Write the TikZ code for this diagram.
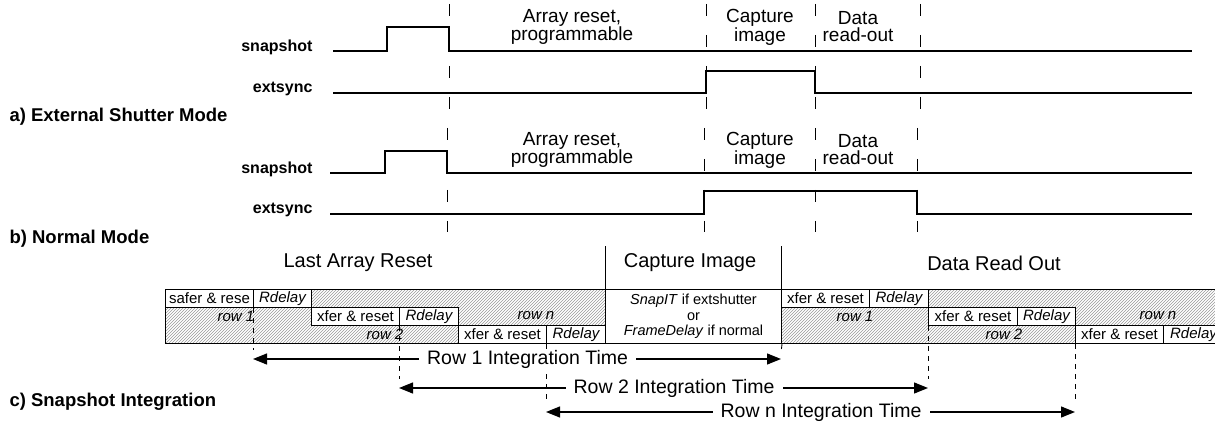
\documentclass[tikz,border=0pt]{standalone}
\usepackage{fontspec}
\setmainfont{Liberation Sans}
\usetikzlibrary{arrows.meta,patterns}

\begin{document}
\begin{tikzpicture}[x=1pt, y=-1pt,
  wave/.style={line width=2.8pt},
  sig/.style={anchor=east, font=\fontsize{16}{16}\selectfont\bfseries},
  mode/.style={anchor=west, font=\fontsize{18.5}{18.5}\selectfont\bfseries},
  phase/.style={align=center, font=\fontsize{19}{17}\selectfont},
  guide/.style={line width=0.9pt, dash pattern=on 12pt off 19pt},
  fine/.style={line width=0.9pt, dash pattern=on 5pt off 5pt},
  title/.style={font=\fontsize{20}{20}\selectfont},
  cell/.style={draw, fill=white, line width=1pt, anchor=north west, minimum height=18pt, inner sep=0pt, font=\fontsize{15}{15}\selectfont},
  delay/.style={cell, font=\fontsize{15}{15}\selectfont\itshape},
  hatch/.style={pattern=north east lines, pattern color=black!40, draw, line width=1pt},
  rowlabel/.style={font=\fontsize{15}{15}\selectfont\itshape},
  span/.style={{Triangle[length=14pt,width=11pt]}-{Triangle[length=14pt,width=11pt]}, line width=1.2pt},
  spanlabel/.style={fill=white, inner xsep=8pt, inner ysep=1pt, font=\fontsize{19.5}{19.5}\selectfont}]

\useasboundingbox (0,0) rectangle (1215,422);

% a) external shutter mode
\node[sig] (snapA) at (316,47) {snapshot};
\node[sig] (syncA) at (316,89) {extsync};
\draw[wave] (333,51) -- (387,51) -- (387,27) -- (449,27) -- (449,51) -- (1192,51);
\draw[wave] (333,93) -- (706,93) -- (706,71) -- (815,71) -- (815,93) -- (1192,93);
\draw[guide] (449,4) -- (449,125);
\draw[guide] (706,4) -- (706,125);
\draw[guide] (815,4) -- (815,125);
\draw[guide] (920,4) -- (920,125);
\node[phase] (resetA) at (572,27) {Array reset,\\programmable};
\node[phase] (captA) at (760,27) {Capture\\image};
\node[phase] (readA) at (858,27) {Data\\read-out};
\node[mode] (modeA) at (6,117) {a) External Shutter Mode};

% b) normal mode
\node[sig] (snapB) at (316,169) {snapshot};
\node[sig] (syncB) at (316,210) {extsync};
\draw[wave] (330,173) -- (385,173) -- (385,151) -- (447,151) -- (447,173) -- (1192,173);
\draw[wave] (330,214) -- (704,214) -- (704,191) -- (917,191) -- (917,214) -- (1192,214);
\draw[guide] (447,128) -- (447,232);
\draw[guide] (704,128) -- (704,232);
\draw[guide] (815,128) -- (815,232);
\draw[guide] (917,128) -- (917,232);
\node[phase] (resetB) at (572,150) {Array reset,\\programmable};
\node[phase] (captB) at (760,150) {Capture\\image};
\node[phase] (readB) at (858,150) {Data\\read-out};
\node[mode] (modeB) at (6,239) {b) Normal Mode};

% c) snapshot integration
\node[title] (lastC) at (358,263) {Last Array Reset};
\node[title] (captC) at (690,263) {Capture Image};
\node[title] (readC) at (994,263) {Data Read Out};
\draw[line width=1pt] (605,246) -- (605,343);
\draw[line width=1pt] (781,246) -- (781,343);

\draw[hatch] (165,289) rectangle (605,343);
\node[cell, minimum width=88pt] (sr1) at (165,289) {safer \& rese};
\node[delay, minimum width=58pt] (rd1) at (253,289) {Rdelay};
\node[cell, minimum width=88pt] (xr2) at (311,307) {xfer \& reset};
\node[delay, minimum width=59pt] (rd2) at (399,307) {Rdelay};
\node[cell, minimum width=88pt] (xrn) at (458,325) {xfer \& reset};
\node[delay, minimum width=59pt] (rdn) at (546,325) {Rdelay};
\node[rowlabel] (row1L) at (236,316) {row 1};
\node[rowlabel] (row2L) at (385,334) {row 2};
\node[rowlabel] (rownL) at (536,316) {row n};

\node[draw, fill=white, line width=1pt, anchor=north west, minimum width=176pt, minimum height=54pt, inner sep=0pt, align=center, font=\fontsize{14.5}{15.5}\selectfont] (capbox) at (605,289) {\textit{SnapIT} if extshutter\\or\\\textit{FrameDelay} if normal};

\draw[hatch] (781,289) rectangle (1230,343);
\node[cell, minimum width=88pt] (xo1) at (781,289) {xfer \& reset};
\node[delay, minimum width=59pt] (ro1) at (869,289) {Rdelay};
\node[cell, minimum width=89pt] (xo2) at (928,307) {xfer \& reset};
\node[delay, minimum width=58pt] (ro2) at (1017,307) {Rdelay};
\node[cell, minimum width=88pt] (xon) at (1075,325) {xfer \& reset};
\node[delay, minimum width=60pt] (ron) at (1163,325) {Rdelay};
\node[rowlabel] (row1R) at (855,316) {row 1};
\node[rowlabel] (row2R) at (1004,334) {row 2};
\node[rowlabel] (rownR) at (1158,316) {row n};

% integration times
\coordinate (r1a) at (253,359);
\coordinate (r1b) at (781,359);
\coordinate (r2a) at (399,388);
\coordinate (r2b) at (928,388);
\coordinate (rna) at (546,412);
\coordinate (rnb) at (1075,412);
\draw[fine] (rd1.south west) -- ([yshift=9pt]r1a);
\draw[fine] (rd2.south west) -- ([yshift=9pt]r2a);
\draw[fine] (rdn.south west) -- ([yshift=9pt]rna);
\draw[fine] (capbox.south east) -- ([yshift=6pt]r1b);
\draw[fine] (xo2.north west |- rd2.south) -- ([yshift=9pt]r2b);
\draw[fine] (xon.south west) -- ([yshift=9pt]rnb);
\draw[span] (r1a) -- node[spanlabel, pos=0.52] (r1L) {Row 1 Integration Time} (r1b);
\draw[span] (r2a) -- node[spanlabel, pos=0.52] (r2L) {Row 2 Integration Time} (r2b);
\draw[span] (rna) -- node[spanlabel, pos=0.52] (rnL) {Row n Integration Time} (rnb);
\node[mode] (modeC) at (6,402) {c) Snapshot Integration};
\end{tikzpicture}
\end{document}
